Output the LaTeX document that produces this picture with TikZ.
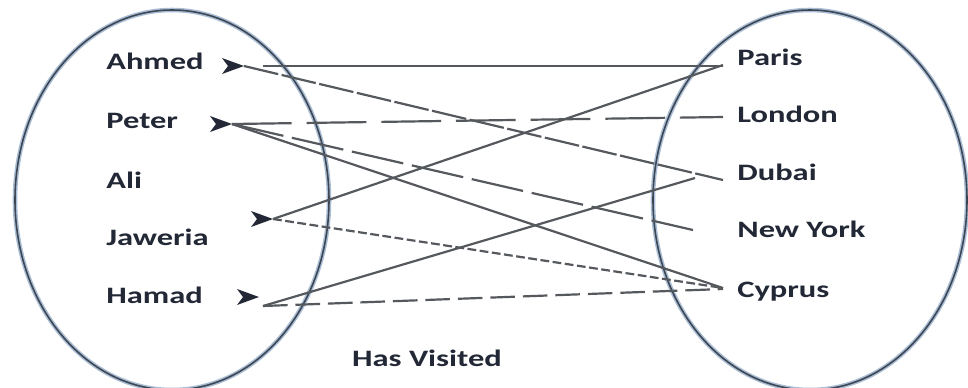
\documentclass[tikz,border=0pt]{standalone}
\usepackage{fontspec}
\setmainfont{Carlito}
\usetikzlibrary{calc, arrows.meta}
\definecolor{ink}{HTML}{222835}
\definecolor{wire}{HTML}{55585D}
\definecolor{rim}{HTML}{3E4652}
\definecolor{glow}{HTML}{A9BED6}
\newcommand{\wide}[1]{\scalebox{1.38}[1]{#1}}

\begin{document}
\begin{tikzpicture}[
    x=0.02cm, y=-0.02cm,
    every node/.style={font=\fontsize{13.4}{15}\selectfont\bfseries, text=ink},
    who/.style={anchor=west, inner sep=0pt, text height=9.5pt, text depth=2.8pt},
    where/.style={anchor=west, inner xsep=0.28cm, inner ysep=0pt, text height=9.5pt, text depth=2.8pt},
    set/.style={draw=rim, line width=0.9pt, preaction={draw=glow, line width=2.6pt}},
    chev/.style={fill=ink},
    link/.style={draw=wire, line width=1.25pt},
    finedash/.style={link, dash pattern=on 20pt off 2pt},
    longdash/.style={link, dash pattern=on 34pt off 8.5pt},
    middash/.style={link, dash pattern=on 30pt off 5pt},
    dotdash/.style={link, dash pattern=on 5pt off 2pt},
    shortdash/.style={link, dash pattern=on 14pt off 4.5pt}
  ]
    \useasboundingbox (0,0) rectangle (968,387);

    % the two sets
    \draw[set] (172,200) ellipse [x radius=157, y radius=190];
    \draw[set] (810,200) ellipse [x radius=157, y radius=190];

    \node[who] (ahmed) at (106,64) {\wide{Ahmed}};
    \node[who] (peter) at (106,123) {\wide{Peter}};
    \node[who] (ali) at (106,183) {\wide{Ali}};
    \node[who] (jaweria) at (106,240) {\wide{Jaweria}};
    \node[who] (hamad) at (106,298) {\wide{Hamad}};

    \node[where] (paris) at (723,60) {\wide{Paris}};
    \node[where] (london) at (723,117) {\wide{London}};
    \node[where] (dubai) at (723,175) {\wide{Dubai}};
    \node[where] (newyork) at (723,232) {\wide{New York}};
    \node[where] (cyprus) at (723,292) {\wide{Cyprus}};

    \node (relation) at (427,358) {\wide{Has Visited}};

    % arrow marks
    \coordinate (ahmed-tip) at (244,66);
    \coordinate (peter-tip) at (232,124);
    \coordinate (jaweria-tip) at (273,219);
    \coordinate (hamad-tip) at (259,297);
    \coordinate (ahmed-out) at (263,66);
    \coordinate (hamad-out) at (263,306);
    \foreach \p in {ahmed, peter, jaweria, hamad}
      \fill[chev] (\p-tip) -- ++(-22,-8) -- ++(6,8) -- ++(-6,8) -- cycle;

    % visits
    \draw[link] (ahmed-out) -- ($(paris.west)+(0,6)$);
    \draw[finedash] (ahmed-tip) -- ($(dubai.west)+(0,5)$);
    \draw[longdash] (peter-tip) -- (london.west);
    \draw[middash] (peter-tip) -- ($(newyork.west)+(-30,-2)$);
    \draw[link] (peter-tip) -- ($(cyprus.west)+(0,-4)$);
    \draw[link] (jaweria-tip) -- ($(paris.west)+(0,5)$);
    \draw[dotdash] (jaweria-tip) -- ($(cyprus.west)+(0,-4)$);
    \draw[link] (hamad-out) -- ($(dubai.west)+(-28,3)$);
    \draw[shortdash] (hamad-out) -- ($(cyprus.west)+(0,-3)$);
  \end{tikzpicture}
\end{document}
